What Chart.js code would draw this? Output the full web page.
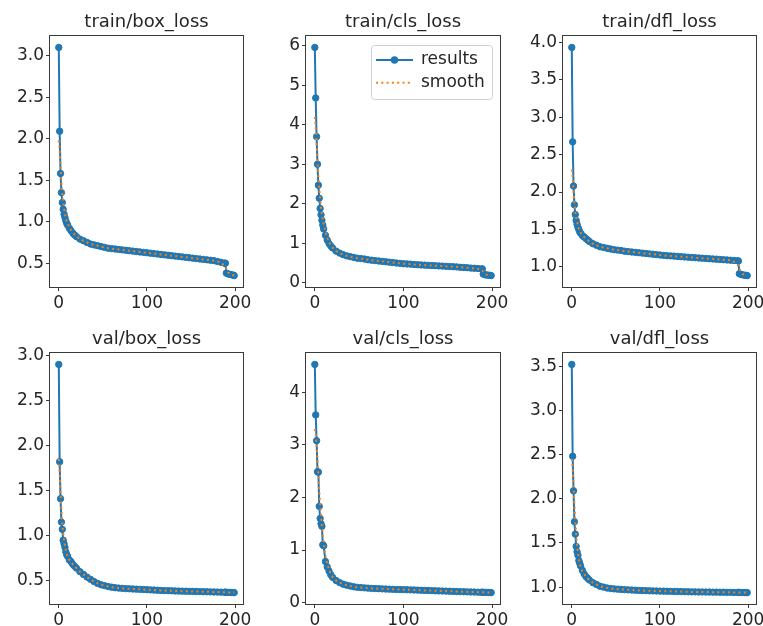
<!DOCTYPE html>
<html>
<head>
<meta charset="utf-8">
<script src="https://cdn.jsdelivr.net/npm/chart.js@4.4.1/dist/chart.umd.min.js"></script>
<style>
  body { margin: 0; background: #fff; width: 763px; height: 626px; position: relative; overflow: hidden; }
  canvas { position: absolute; }
</style>
</head>
<body>
<canvas id="c1"></canvas>
<canvas id="c2"></canvas>
<canvas id="c3"></canvas>
<canvas id="c4"></canvas>
<canvas id="c5"></canvas>
<canvas id="c6"></canvas>
<script>
// epochs sampled from the curves (dense at the start, every 4 epochs on the plateau)
const epochs = [0, 1, 2, 3, 4, 5, 6, 7, 8, 9, 10, 12, 14, 16, 18, 20,
  24, 28, 32, 36, 40, 44, 48, 52, 56, 60, 64, 68, 72, 76, 80, 84, 88, 92, 96, 100,
  104, 108, 112, 116, 120, 124, 128, 132, 136, 140, 144, 148, 152, 156, 160, 164, 168, 172, 176, 180,
  184, 188, 189, 190, 192, 194, 196, 198, 199];

const trainBoxLoss = [3.10, 2.09, 1.58, 1.35, 1.23, 1.15, 1.09, 1.05, 1.01, 0.98, 0.96, 0.92, 0.89, 0.86, 0.84, 0.82,
  0.79, 0.77, 0.75, 0.73, 0.72, 0.71, 0.70, 0.69, 0.68, 0.675, 0.67, 0.665, 0.66, 0.655, 0.65, 0.645, 0.64, 0.635, 0.63, 0.625,
  0.62, 0.615, 0.61, 0.605, 0.60, 0.595, 0.59, 0.585, 0.58, 0.575, 0.57, 0.565, 0.56, 0.555, 0.55, 0.545, 0.54, 0.535, 0.53, 0.52,
  0.51, 0.50, 0.50, 0.38, 0.37, 0.365, 0.36, 0.355, 0.35];
const trainBoxSmooth = [1.98, 1.86, 1.66, 1.47, 1.34, 1.24, 1.16, 1.10, 1.05, 1.01, 0.98, 0.93, 0.90, 0.87, 0.845, 0.825,
  0.79, 0.77, 0.75, 0.73, 0.72, 0.71, 0.70, 0.69, 0.68, 0.675, 0.67, 0.665, 0.66, 0.655, 0.65, 0.645, 0.64, 0.635, 0.63, 0.625,
  0.62, 0.615, 0.61, 0.605, 0.60, 0.595, 0.59, 0.585, 0.58, 0.575, 0.57, 0.565, 0.56, 0.555, 0.55, 0.545, 0.54, 0.535, 0.53, 0.52,
  0.505, 0.47, 0.46, 0.43, 0.39, 0.37, 0.36, 0.355, 0.35];

const trainClsLoss = [5.96, 4.68, 3.70, 3.00, 2.47, 2.14, 1.88, 1.72, 1.58, 1.46, 1.36, 1.20, 1.08, 0.99, 0.93, 0.88,
  0.80, 0.75, 0.71, 0.68, 0.66, 0.64, 0.62, 0.61, 0.60, 0.58, 0.57, 0.56, 0.55, 0.54, 0.53, 0.52, 0.51, 0.50, 0.49, 0.48,
  0.475, 0.47, 0.46, 0.455, 0.45, 0.445, 0.44, 0.435, 0.43, 0.425, 0.42, 0.415, 0.41, 0.405, 0.40, 0.39, 0.385, 0.38, 0.37, 0.365,
  0.36, 0.35, 0.35, 0.22, 0.20, 0.195, 0.19, 0.185, 0.18];
const trainClsSmooth = [4.20, 3.95, 3.55, 3.10, 2.70, 2.38, 2.12, 1.91, 1.74, 1.60, 1.48, 1.29, 1.14, 1.03, 0.95, 0.89,
  0.80, 0.75, 0.71, 0.68, 0.66, 0.64, 0.62, 0.61, 0.60, 0.58, 0.57, 0.56, 0.55, 0.54, 0.53, 0.52, 0.51, 0.50, 0.49, 0.48,
  0.475, 0.47, 0.46, 0.455, 0.45, 0.445, 0.44, 0.435, 0.43, 0.425, 0.42, 0.415, 0.41, 0.405, 0.40, 0.39, 0.385, 0.38, 0.37, 0.365,
  0.35, 0.32, 0.31, 0.28, 0.23, 0.20, 0.19, 0.185, 0.18];

const trainDflLoss = [3.93, 2.67, 2.08, 1.83, 1.70, 1.62, 1.57, 1.53, 1.50, 1.47, 1.45, 1.42, 1.40, 1.38, 1.36, 1.34,
  1.31, 1.29, 1.27, 1.26, 1.25, 1.24, 1.23, 1.225, 1.22, 1.21, 1.205, 1.20, 1.195, 1.19, 1.185, 1.18, 1.175, 1.17, 1.165, 1.16,
  1.155, 1.15, 1.148, 1.145, 1.14, 1.137, 1.134, 1.13, 1.127, 1.124, 1.12, 1.117, 1.114, 1.11, 1.107, 1.104, 1.10, 1.097, 1.094, 1.09,
  1.087, 1.083, 1.08, 0.91, 0.90, 0.895, 0.89, 0.888, 0.885];
const trainDflSmooth = [2.30, 2.20, 2.00, 1.85, 1.74, 1.66, 1.60, 1.55, 1.51, 1.48, 1.46, 1.42, 1.40, 1.38, 1.36, 1.34,
  1.31, 1.29, 1.27, 1.26, 1.25, 1.24, 1.23, 1.225, 1.22, 1.21, 1.205, 1.20, 1.195, 1.19, 1.185, 1.18, 1.175, 1.17, 1.165, 1.16,
  1.155, 1.15, 1.148, 1.145, 1.14, 1.137, 1.134, 1.13, 1.127, 1.124, 1.12, 1.117, 1.114, 1.11, 1.107, 1.104, 1.10, 1.097, 1.094, 1.09,
  1.07, 1.03, 1.01, 0.98, 0.93, 0.905, 0.895, 0.89, 0.887];

const valBoxLoss = [2.90, 1.82, 1.41, 1.15, 1.07, 0.95, 0.91, 0.87, 0.82, 0.79, 0.77, 0.73, 0.71, 0.68, 0.66, 0.64,
  0.60, 0.57, 0.54, 0.515, 0.49, 0.47, 0.455, 0.445, 0.435, 0.428, 0.422, 0.418, 0.415, 0.412, 0.41, 0.408, 0.406, 0.404, 0.402, 0.40,
  0.398, 0.396, 0.394, 0.392, 0.39, 0.389, 0.388, 0.386, 0.385, 0.384, 0.383, 0.382, 0.381, 0.38, 0.379, 0.378, 0.377, 0.376, 0.375, 0.374,
  0.373, 0.372, 0.372, 0.371, 0.37, 0.37, 0.369, 0.368, 0.368];
const valBoxSmooth = [1.85, 1.70, 1.48, 1.29, 1.14, 1.03, 0.95, 0.89, 0.84, 0.80, 0.77, 0.73, 0.71, 0.68, 0.66, 0.64,
  0.60, 0.57, 0.54, 0.515, 0.49, 0.47, 0.455, 0.445, 0.435, 0.428, 0.422, 0.418, 0.415, 0.412, 0.41, 0.408, 0.406, 0.404, 0.402, 0.40,
  0.398, 0.396, 0.394, 0.392, 0.39, 0.389, 0.388, 0.386, 0.385, 0.384, 0.383, 0.382, 0.381, 0.38, 0.379, 0.378, 0.377, 0.376, 0.375, 0.374,
  0.373, 0.372, 0.372, 0.371, 0.37, 0.37, 0.369, 0.368, 0.368];

const valClsLoss = [4.53, 3.57, 3.08, 2.49, 2.48, 1.83, 1.60, 1.50, 1.45, 1.10, 1.08, 0.78, 0.68, 0.60, 0.53, 0.48,
  0.42, 0.38, 0.35, 0.33, 0.315, 0.30, 0.29, 0.285, 0.28, 0.275, 0.27, 0.267, 0.264, 0.261, 0.258, 0.255, 0.252, 0.25, 0.248, 0.246,
  0.244, 0.242, 0.24, 0.237, 0.234, 0.232, 0.23, 0.227, 0.224, 0.222, 0.22, 0.218, 0.215, 0.213, 0.21, 0.208, 0.206, 0.204, 0.202, 0.20,
  0.198, 0.196, 0.196, 0.195, 0.194, 0.193, 0.192, 0.19, 0.19];
const valClsSmooth = [3.30, 3.20, 3.00, 2.72, 2.42, 2.13, 1.87, 1.65, 1.46, 1.29, 1.14, 0.90, 0.74, 0.63, 0.55, 0.49,
  0.42, 0.38, 0.35, 0.33, 0.315, 0.30, 0.29, 0.285, 0.28, 0.275, 0.27, 0.267, 0.264, 0.261, 0.258, 0.255, 0.252, 0.25, 0.248, 0.246,
  0.244, 0.242, 0.24, 0.237, 0.234, 0.232, 0.23, 0.227, 0.224, 0.222, 0.22, 0.218, 0.215, 0.213, 0.21, 0.208, 0.206, 0.204, 0.202, 0.20,
  0.198, 0.196, 0.196, 0.195, 0.194, 0.193, 0.192, 0.19, 0.19];

const valDflLoss = [3.52, 2.48, 2.09, 1.74, 1.60, 1.46, 1.40, 1.36, 1.30, 1.27, 1.24, 1.19, 1.15, 1.12, 1.10, 1.08,
  1.05, 1.03, 1.01, 1.00, 0.99, 0.985, 0.98, 0.977, 0.974, 0.971, 0.969, 0.967, 0.965, 0.963, 0.961, 0.96, 0.958, 0.957, 0.956, 0.955,
  0.954, 0.953, 0.952, 0.951, 0.95, 0.949, 0.948, 0.947, 0.946, 0.946, 0.945, 0.945, 0.944, 0.944, 0.943, 0.943, 0.942, 0.942, 0.941, 0.941,
  0.94, 0.94, 0.94, 0.94, 0.939, 0.939, 0.938, 0.938, 0.938];
const valDflSmooth = [2.45, 2.35, 2.15, 1.93, 1.74, 1.59, 1.47, 1.39, 1.32, 1.27, 1.23, 1.18, 1.15, 1.12, 1.10, 1.08,
  1.05, 1.03, 1.01, 1.00, 0.99, 0.985, 0.98, 0.977, 0.974, 0.971, 0.969, 0.967, 0.965, 0.963, 0.961, 0.96, 0.958, 0.957, 0.956, 0.955,
  0.954, 0.953, 0.952, 0.951, 0.95, 0.949, 0.948, 0.947, 0.946, 0.946, 0.945, 0.945, 0.944, 0.944, 0.943, 0.943, 0.942, 0.942, 0.941, 0.941,
  0.94, 0.94, 0.94, 0.94, 0.939, 0.939, 0.938, 0.938, 0.938];

// tick values
const xTicks = [0, 100, 200];
const yTicksTrainBox = [0.5, 1.0, 1.5, 2.0, 2.5, 3.0];
const yTicksTrainCls = [0, 1, 2, 3, 4, 5, 6];
const yTicksTrainDfl = [1.0, 1.5, 2.0, 2.5, 3.0, 3.5, 4.0];
const yTicksValBox = [0.5, 1.0, 1.5, 2.0, 2.5, 3.0];
const yTicksValCls = [0, 1, 2, 3, 4];
const yTicksValDfl = [1.0, 1.5, 2.0, 2.5, 3.0, 3.5];

const FONT = 'DejaVu Sans';
const TEXT = '#262626';
const EDGE = '#3a3a3a';
const YW = 46, TH = 28, XH = 28, PR = 22;

// plot rectangles [left, top, right, bottom] in page pixels
const panels = [
  { id: 'c1', title: 'train/box_loss', results: trainBoxLoss, smooth: trainBoxSmooth, yTicks: yTicksTrainBox, dec: 1, rect: [50, 36, 243, 287] },
  { id: 'c2', title: 'train/cls_loss', results: trainClsLoss, smooth: trainClsSmooth, yTicks: yTicksTrainCls, dec: 0, rect: [306, 36, 500, 287], legend: true },
  { id: 'c3', title: 'train/dfl_loss', results: trainDflLoss, smooth: trainDflSmooth, yTicks: yTicksTrainDfl, dec: 1, rect: [563, 36, 756, 287] },
  { id: 'c4', title: 'val/box_loss', results: valBoxLoss, smooth: valBoxSmooth, yTicks: yTicksValBox, dec: 1, rect: [50, 353, 243, 604] },
  { id: 'c5', title: 'val/cls_loss', results: valClsLoss, smooth: valClsSmooth, yTicks: yTicksValCls, dec: 0, rect: [306, 353, 500, 604] },
  { id: 'c6', title: 'val/dfl_loss', results: valDflLoss, smooth: valDflSmooth, yTicks: yTicksValDfl, dec: 1, rect: [563, 353, 756, 604] }
];

const framePlugin = {
  id: 'frame',
  afterDatasetsDraw(chart) {
    const { ctx, chartArea: a } = chart;
    ctx.save();
    ctx.strokeStyle = EDGE;
    ctx.lineWidth = 1;
    ctx.strokeRect(a.left - 0.5, a.top - 0.5, a.right - a.left + 1, a.bottom - a.top + 1);
    ctx.restore();
  }
};

const legendPlugin = {
  id: 'boxLegend',
  afterDraw(chart) {
    if (!chart.options.plugins.boxLegend.show) return;
    const { ctx, chartArea: a } = chart;
    const ds = chart.data.datasets;
    const w = 121, h = 54;
    const x0 = a.right - 8 - w, y0 = a.top + 9;
    ctx.save();
    ctx.fillStyle = 'rgba(255,255,255,0.8)';
    ctx.strokeStyle = '#d0d0d0';
    ctx.lineWidth = 1;
    ctx.beginPath();
    ctx.roundRect(x0 + 0.5, y0 + 0.5, w, h, 3);
    ctx.fill();
    ctx.stroke();
    ds.forEach((d, i) => {
      const y = y0 + 15 + i * 22.7;
      ctx.strokeStyle = d.borderColor;
      ctx.lineWidth = d.borderWidth;
      ctx.setLineDash(d.borderDash || []);
      ctx.beginPath();
      ctx.moveTo(x0 + 5, y);
      ctx.lineTo(x0 + 42, y);
      ctx.stroke();
      ctx.setLineDash([]);
      if (d.pointRadius > 0) {
        ctx.fillStyle = d.borderColor;
        ctx.beginPath();
        ctx.arc(x0 + 23.5, y, d.pointRadius + 0.5, 0, Math.PI * 2);
        ctx.fill();
      }
      ctx.fillStyle = TEXT;
      ctx.font = '17px "' + FONT + '"';
      ctx.textBaseline = 'middle';
      ctx.fillText(d.label, x0 + 50, y);
    });
    ctx.restore();
  }
};

function autoRange(a, b) {
  const lo = Math.min(...a, ...b), hi = Math.max(...a, ...b);
  const pad = (hi - lo) * 0.05;
  return [lo - pad, hi + pad];
}

panels.forEach(p => {
  const [l, t, r, b] = p.rect;
  const c = document.getElementById(p.id);
  c.width = r - l + YW + PR;
  c.height = b - t + TH + XH;
  c.style.left = (l - YW) + 'px';
  c.style.top = (t - TH) + 'px';
  const [ymin, ymax] = autoRange(p.results, p.smooth);
  const tickFont = { family: FONT, size: 17 };

  new Chart(c, {
    type: 'line',
    data: {
      datasets: [
        {
          label: 'results',
          data: epochs.map((x, i) => ({ x: x, y: p.results[i] })),
          borderColor: '#1f77b4',
          backgroundColor: '#1f77b4',
          borderWidth: 2,
          pointRadius: 3.2,
          pointBorderWidth: 1,
          pointBackgroundColor: '#1f77b4',
          pointBorderColor: '#1f77b4',
          tension: 0,
          order: 2
        },
        {
          label: 'smooth',
          data: epochs.map((x, i) => ({ x: x, y: p.smooth[i] })),
          borderColor: '#ff7f0e',
          borderWidth: 2,
          borderDash: [2, 3.3],
          pointRadius: 0,
          tension: 0,
          order: 1
        }
      ]
    },
    options: {
      responsive: false,
      animation: false,
      events: [],
      layout: { padding: { left: 0, right: PR, top: 0, bottom: 0 } },
      plugins: {
        legend: { display: false },
        tooltip: { enabled: false },
        boxLegend: { show: !!p.legend },
        title: {
          display: true,
          fullSize: false,
          text: p.title,
          color: TEXT,
          font: { family: FONT, size: 18, weight: 'normal', lineHeight: 1.2 },
          padding: { top: 4, bottom: 2.4 }
        }
      },
      scales: {
        x: {
          type: 'linear',
          min: -9.95,
          max: 208.95,
          afterBuildTicks: s => { s.ticks = xTicks.map(v => ({ value: v })); },
          afterFit: s => { s.height = XH; },
          grid: { drawOnChartArea: false, drawTicks: true, tickLength: 4, color: EDGE },
          border: { display: false },
          ticks: { color: TEXT, font: tickFont, padding: 2, maxRotation: 0, autoSkip: false }
        },
        y: {
          type: 'linear',
          min: ymin,
          max: ymax,
          afterBuildTicks: s => { s.ticks = p.yTicks.map(v => ({ value: v })); },
          afterFit: s => { s.width = YW; },
          grid: { drawOnChartArea: false, drawTicks: true, tickLength: 4, color: EDGE },
          border: { display: false },
          ticks: { color: TEXT, font: tickFont, padding: 2, autoSkip: false, callback: v => v.toFixed(p.dec) }
        }
      }
    },
    plugins: [framePlugin, legendPlugin]
  });
});
</script>
</body>
</html>
